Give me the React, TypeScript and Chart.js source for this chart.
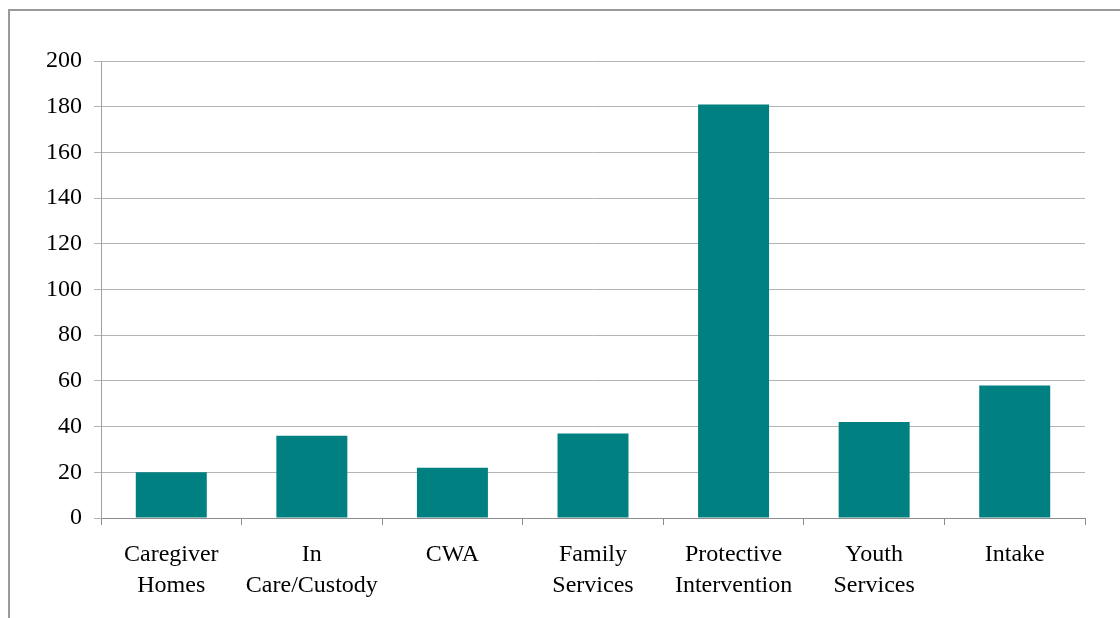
import React, { useEffect, useRef } from "react";
import { Chart, registerables } from "chart.js";

Chart.register(...registerables);

const categories: (string | string[])[] = [
  ["Caregiver", "Homes"],
  ["In", "Care/Custody"],
  "CWA",
  ["Family", "Services"],
  ["Protective", "Intervention"],
  ["Youth", "Services"],
  "Intake",
];
const values: number[] = [20, 36, 22, 37, 181, 42, 58];
const yMin = 0;
const yMax = 200;
const yStep = 20;

const framePlugin = {
  id: "frame",
  beforeDraw(chart: any) {
    const ctx = chart.ctx;
    ctx.save();
    ctx.strokeStyle = "#9a9a9a";
    ctx.lineWidth = 2;
    ctx.beginPath();
    ctx.moveTo(9, 700);
    ctx.lineTo(9, 10);
    ctx.lineTo(1200, 10);
    ctx.stroke();
    ctx.restore();
  },
};

export default function App() {
  const ref = useRef<HTMLCanvasElement | null>(null);
  useEffect(() => {
    if (!ref.current) return;
    const yFont = { family: "'Liberation Serif', 'Times New Roman', serif", size: 24 };
    const xFont = { family: "'Liberation Serif', 'Times New Roman', serif", size: 24, lineHeight: "31px" };
    const chart = new Chart(ref.current, {
      type: "bar",
      data: {
        labels: categories,
        datasets: [
          {
            data: values,
            backgroundColor: "#008080",
            borderWidth: 0,
            categoryPercentage: 1,
            barPercentage: 0.505,
          },
        ],
      },
      options: {
        animation: false,
        responsive: true,
        maintainAspectRatio: false,
        layout: { padding: { left: 0, top: 61, right: 35, bottom: 0 } },
        plugins: { legend: { display: false }, tooltip: { enabled: false } },
        scales: {
          x: {
            afterFit: (s: any) => {
              s.height = 100;
            },
            grid: {
              drawOnChartArea: false,
              drawTicks: true,
              tickLength: 7,
              color: "#8c8c8c",
              offset: true,
            },
            border: { color: "#8c8c8c", width: 1 },
            ticks: { color: "#000", font: xFont, padding: 14, maxRotation: 0, autoSkip: false },
          },
          y: {
            min: yMin,
            max: yMax,
            afterFit: (s: any) => {
              s.width = 101;
            },
            grid: { color: "#b4b4b4", tickLength: 7 },
            border: { color: "#a0a0a0", width: 1 },
            ticks: { stepSize: yStep, color: "#000", font: yFont, padding: 12 },
          },
        },
      },
      plugins: [framePlugin],
    });
    return () => chart.destroy();
  }, []);
  return (
    <div style={{ position: "absolute", left: 0, top: 0, width: 1120, height: 618, background: "#fff" }}>
      <canvas ref={ref} />
    </div>
  );
}
